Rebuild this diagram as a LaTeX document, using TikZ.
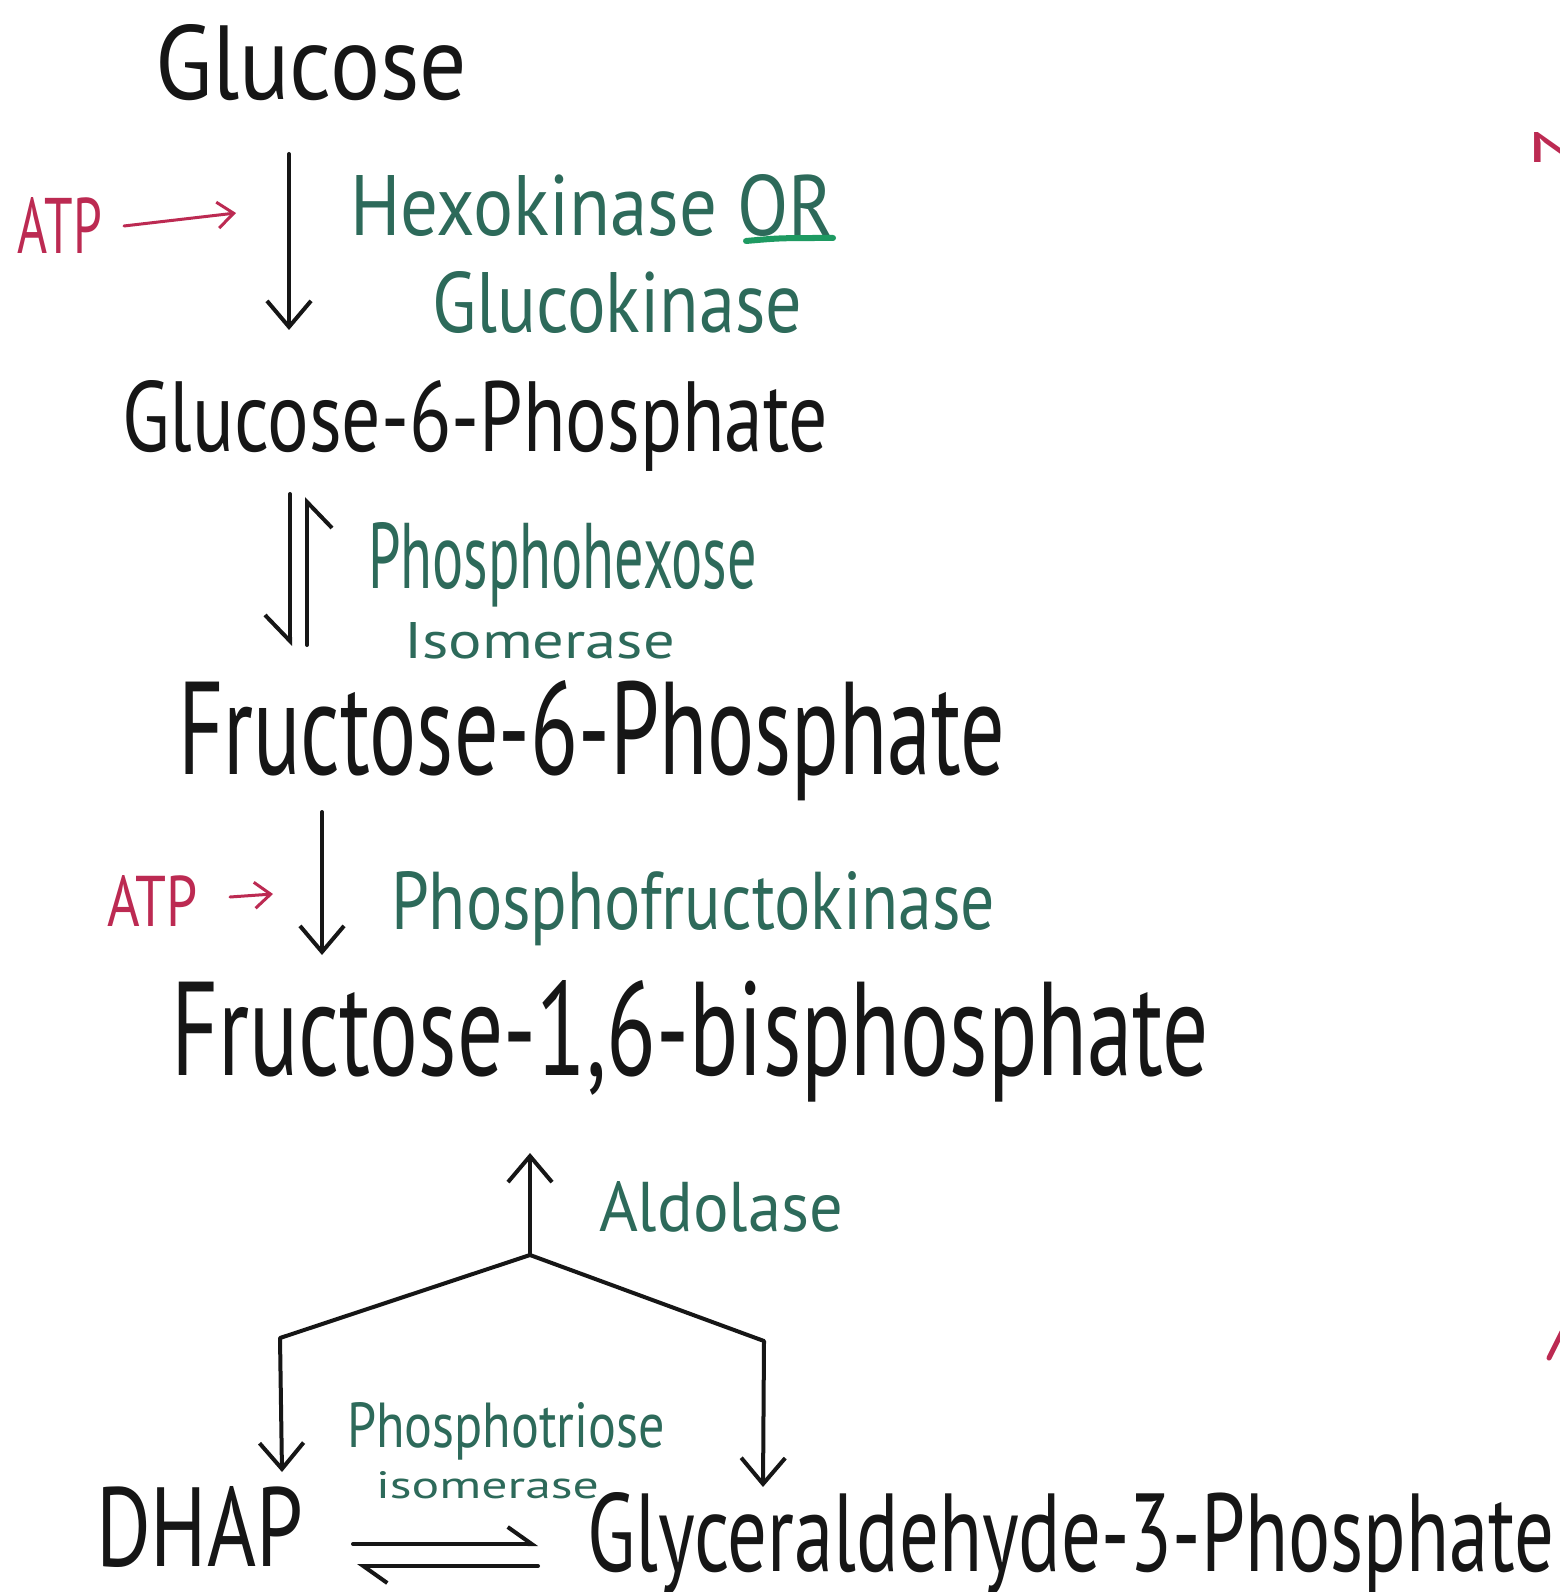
\documentclass[tikz,border=0pt]{standalone}
\usepackage{fontspec}
\setmainfont{PT Sans}
\usetikzlibrary{arrows.meta}
% one drawing unit = 0.01cm; \pxu lets box sizes use the same unit
\newdimen\pxu \pxu=0.01cm
\newcommand\hand[3]{\resizebox{#1\pxu}{#2\pxu}{#3}}
\definecolor{ink}{HTML}{161616}
\definecolor{enz}{HTML}{2D6A5A}
\definecolor{atp}{HTML}{BC2A52}
\definecolor{markgreen}{HTML}{1E9A62}
\begin{document}
\begin{tikzpicture}[x=0.01cm,y=-0.01cm,
  lbl/.style={inner sep=0pt, outer sep=0pt, anchor=base west},
  met/.style={lbl, text=ink},
  enzyme/.style={lbl, text=enz},
  cofactor/.style={lbl, text=atp},
  flow/.style={draw=ink, line width=0.04cm, line cap=round, line join=round,
    -{Straight Barb[length=0.26cm, width=0.44cm]}},
  halfflow/.style={draw=ink, line width=0.04cm, line cap=round, line join=round,
    -{Straight Barb[harpoon, #1, length=0.26cm, width=0.50cm]}},
  halfflow/.default={},
  eqflow/.style={draw=ink, line width=0.04cm, line cap=round, line join=round,
    -{Straight Barb[harpoon, length=0.24cm, width=0.34cm]}},
  atpflow/.style={draw=atp, line width=0.03cm, line cap=round,
    -{Straight Barb[length=0.16cm, width=0.26cm]}}]

\fill[white] (0,0) rectangle (1559,1592);
\useasboundingbox (0,0) rectangle (1559,1592);

% metabolites
\node[met] (glc)  at (155,100)  {\hand{312}{75}{Glucose}};
\node[met] (g6p)  at (122,452)  {\hand{706}{71}{Glucose-6-Phosphate}};
\node[met] (f6p)  at (178,774)  {\hand{827}{94}{Fructose-6-Phosphate}};
\node[met] (f16)  at (171,1075) {\hand{1038}{95}{Fructose-1,6-bisphosphate}};
\node[met] (dhap) at (96,1566)  {\hand{207}{80}{DHAP}};
\node[met] (gap)  at (587,1571) {\hand{967}{79}{Glyceraldehyde-3-Phosphate}};

% enzymes
\node[enzyme] (hex) at (350,236)  {\hand{483}{61}{Hexokinase OR}};
\node[enzyme] (gck) at (432,333)  {\hand{370}{61}{Glucokinase}};
\node[enzyme] (phi) at (368,589)  {\hand{389}{66}{Phosphohexose}};
\node[enzyme] (phi2) at (404,658) {\hand{271}{36}{Isomerase}};
\node[enzyme] (pfk) at (391,929)  {\hand{604}{58}{Phosphofructokinase}};
\node[enzyme] (ald) at (599,1231) {\hand{244}{50}{Aldolase}};
\node[enzyme] (tpi) at (347,1447) {\hand{318}{45}{Phosphotriose}};
\node[enzyme] (tpi2) at (376,1498) {\hand{223}{27}{isomerase}};

% cofactors
\node[cofactor] (atp1) at (18,254)  {\hand{84}{56}{ATP}};
\node[cofactor] (atp2) at (107,926) {\hand{91}{51}{ATP}};
\node[cofactor] (edge) at (1527,163) {\hand{56}{30}{N}};

% underline of "OR"
\draw[markgreen, line width=0.06cm, line cap=round] (746,241) .. controls (780,238) .. (833,238);

% arrow end points
\coordinate (a1s) at (289,154);  \coordinate (a1e) at (289,330);
\coordinate (a2s) at (290,494);  \coordinate (a2e) at (290,646);
\coordinate (a3s) at (307,645);  \coordinate (a3e) at (307,497);
\coordinate (a4s) at (322,812);  \coordinate (a4e) at (322,955);
\coordinate (apex) at (530,1255); \coordinate (a5e) at (530,1153);
\coordinate (lc) at (280,1338);  \coordinate (lt) at (282,1472);
\coordinate (rc) at (764,1341);  \coordinate (rt) at (763,1487);
\coordinate (e1s) at (353,1544); \coordinate (e1e) at (538,1544);
\coordinate (e2s) at (538,1566); \coordinate (e2e) at (357,1566);
\coordinate (p1s) at (124,226);  \coordinate (p1e) at (236,213);
\coordinate (p2s) at (230,897);  \coordinate (p2e) at (273,894);

% main chain
\draw[flow] (a1s) -- (a1e);
\draw[halfflow=swap] (a2s) -- (a2e);
\draw[halfflow=swap] (a3s) -- (a3e);
\draw[flow] (a4s) -- (a4e);
\draw[flow] (apex) -- (a5e);
\draw[flow] (apex) -- (lc) -- (lt);
\draw[flow] (apex) -- (rc) -- (rt);
\draw[eqflow] (e1s) -- (e1e);
\draw[eqflow] (e2s) -- (e2e);

% ATP inputs
\draw[atpflow] (p1s) -- (p1e);
\draw[atpflow] (p2s) -- (p2e);

% stray mark at the right edge
\draw[atp, line width=0.05cm, line cap=round] (1549,1358) -- (1562,1332);
\end{tikzpicture}
\end{document}
